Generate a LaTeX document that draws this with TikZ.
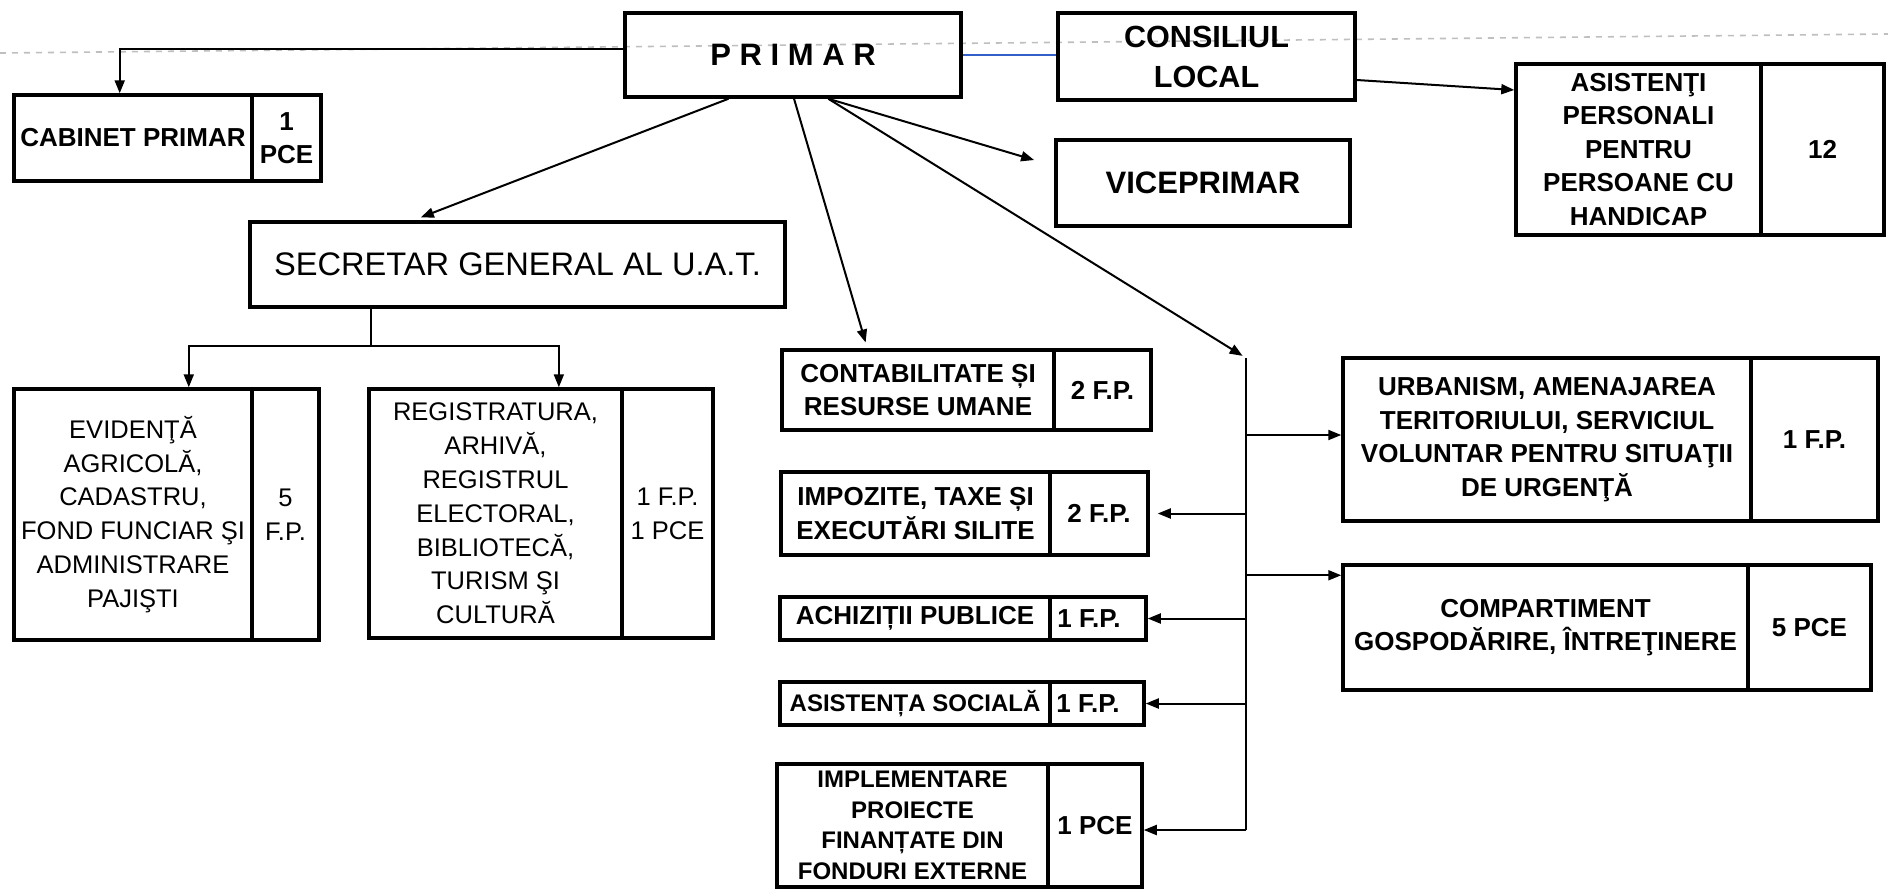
\documentclass[tikz,border=0pt]{standalone}
\usepackage{fontspec}
\setmainfont{Liberation Sans}
\usetikzlibrary{arrows.meta,calc}
\newcommand\mybox[7]{%
  \pgfmathsetmacro\myW{(#4-#2)*0.5}%
  \pgfmathsetmacro\myH{(#5-#3)*0.5}%
  \node[#6, minimum width=\myW pt, minimum height=\myH pt] (#1) at ({(#2+#4)/2},{(#3+#5)/2}) {#7};%
}
\newcommand\bsmall{\fontsize{13}{16.75}\selectfont\bfseries}
\newcommand\bsmaller{\fontsize{12}{15.3}\selectfont\bfseries}
\newcommand\rsmall{\fontsize{12.75}{16.9}\selectfont}
\newcommand\secf{\fontsize{16.3}{19}\selectfont}
\newcommand\vicef{\fontsize{15.5}{19}\selectfont\bfseries}
\newcommand\consf{\fontsize{15.3}{20}\selectfont\bfseries}
\newcommand\primf{\fontsize{15.5}{19}\selectfont\bfseries}
\begin{document}
\begin{tikzpicture}[x=0.5pt,y=-0.5pt,
  cell/.style={draw, line width=1.75pt, inner sep=0pt, align=center},
  conn/.style={line width=1pt},
  arr/.style={line width=1pt, -{Triangle[length=6.5pt,width=5pt]}},
  blueline/.style={line width=1.2pt, draw={rgb,255:red,50;green,95;blue,200}},
  scan/.style={draw=black!25, line width=0.8pt, dash pattern=on 3pt off 3pt}]
\fill[white] (0,0) rectangle (1888,890);
\useasboundingbox (0,0) rectangle (1888,890);
% faint scan line
\draw[scan] (0,53) -- (1888,34);
% boxes
\mybox{primar}{625}{13}{961}{97}{cell, font=\primf}{P R I M A R}
\mybox{consil}{1058}{13}{1355}{100}{cell, font=\consf}{CONSILIUL\\LOCAL}
\mybox{vice}{1056}{140}{1350}{226}{cell, font=\vicef}{VICEPRIMAR}
\mybox{asiL}{1516}{64}{1761}{235}{cell, font=\bsmall}{ASISTENŢI\\PERSONALI\\PENTRU\\PERSOANE CU\\HANDICAP}
\mybox{asiR}{1761}{64}{1884}{235}{cell, font=\bsmall}{12}
\mybox{cabL}{14}{95}{252}{181}{cell, font=\bsmall}{CABINET PRIMAR}
\mybox{cabR}{252}{95}{321}{181}{cell, font=\bsmall}{1\\PCE}
\mybox{secr}{250}{222}{785}{307}{cell, font=\secf}{SECRETAR GENERAL AL U.A.T.}
\mybox{evL}{14}{389}{252}{640}{cell, font=\rsmall}{EVIDENŢĂ\\AGRICOLĂ,\\CADASTRU,\\FOND FUNCIAR ŞI\\ADMINISTRARE\\PAJIŞTI}
\mybox{evR}{252}{389}{319}{640}{cell, font=\rsmall}{5\\F.P.}
\mybox{regL}{369}{389}{622}{638}{cell, font=\rsmall}{REGISTRATURA,\\ARHIVĂ,\\REGISTRUL\\ELECTORAL,\\BIBLIOTECĂ,\\TURISM ŞI\\CULTURĂ}
\mybox{regR}{622}{389}{713}{638}{cell, font=\rsmall}{1 F.P.\\1 PCE}
\mybox{contL}{782}{350}{1054}{430}{cell, font=\bsmall}{CONTABILITATE ȘI\\RESURSE UMANE}
\mybox{contR}{1054}{350}{1151}{430}{cell, font=\bsmall}{2 F.P.}
\mybox{impL}{781}{472}{1050}{555}{cell, font=\bsmall}{IMPOZITE, TAXE ȘI\\EXECUTĂRI SILITE}
\mybox{impR}{1050}{472}{1148}{555}{cell, font=\bsmall}{2 F.P.}
\mybox{achL}{780}{597}{1050}{640}{cell, font=\bsmall}{ACHIZIȚII PUBLICE}
\mybox{achR}{1050}{597}{1146}{640}{cell, font=\bsmall}{1 F.P.\hspace*{9pt}}
\mybox{socL}{780}{682}{1050}{725}{cell, font=\bsmaller}{ASISTENȚA SOCIALĂ}
\mybox{socR}{1050}{682}{1144}{725}{cell, font=\bsmall}{1 F.P.\hspace*{9pt}}
\mybox{implL}{777}{764}{1048}{887}{cell, font=\bsmaller}{IMPLEMENTARE\\PROIECTE\\FINANȚATE DIN\\FONDURI EXTERNE}
\mybox{implR}{1048}{764}{1142}{887}{cell, font=\bsmall}{1 PCE}
\mybox{urbL}{1343}{358}{1751}{521}{cell, font=\bsmall}{URBANISM, AMENAJAREA\\TERITORIULUI, SERVICIUL\\VOLUNTAR PENTRU SITUAŢII\\DE URGENŢĂ}
\mybox{urbR}{1751}{358}{1878}{521}{cell, font=\bsmall}{1 F.P.}
\mybox{compL}{1343}{565}{1748}{690}{cell, font=\bsmall}{COMPARTIMENT\\GOSPODĂRIRE, ÎNTREŢINERE}
\mybox{compR}{1748}{565}{1871}{690}{cell, font=\bsmall}{5 PCE}
% connectors from PRIMAR
\coordinate (p1) at ($(primar.south west)!0.31!(primar.south east)$);
\coordinate (p2) at ($(primar.south west)!0.503!(primar.south east)$);
\coordinate (p3) at ($(primar.south west)!0.604!(primar.south east)$);
\draw[arr] ([yshift=3pt]primar.west) -| ($(cabL.north west)!0.445!(cabL.north east)$);
\draw[blueline] (primar.east) -- (primar.east -| consil.west);
\draw[arr] ([yshift=-11.75pt]consil.east) -- ([yshift=29.75pt]asiL.west);
\draw[arr, shorten >=4pt] (p1) -- ($(secr.north west)!0.3066!(secr.north east)$);
\draw[arr, shorten >=3pt] (p2) -- ($(contL.north west)!0.316!(contL.north east)$);
\draw[arr, shorten >=10.5pt] (p3) -- ([yshift=8.5pt]vice.west);
\coordinate (bt) at (1246,358);
\coordinate (bb) at (1246,830);
\draw[arr, shorten >=2pt] (p3) -- (bt);
% secretar fork
\coordinate (sj) at (371,346);
\draw[conn] (secr.south -| sj) -- (sj);
\draw[arr] (sj) -| ($(evL.north west)!0.731!(evL.north east)$);
\draw[arr] (sj) -| ($(regL.north west)!0.747!(regL.north east)$);
% bus
\draw[conn] (bt) -- (bb);
\coordinate (aU) at ([yshift=2.25pt]urbL.west);
\coordinate (aC) at ([yshift=-6pt]compL.north west);
\draw[arr] (bt |- aU) -- (aU);
\draw[arr] (bt |- aC) -- (aC);
\draw[arr, shorten >=4pt] (bt |- impR.east) -- (impR.east);
\draw[arr] (bt |- achR.east) -- (achR.east);
\draw[arr] (bt |- socR.east) -- (socR.east);
\draw[arr] (bb) -- (bb -| implR.east);
\end{tikzpicture}
\end{document}
